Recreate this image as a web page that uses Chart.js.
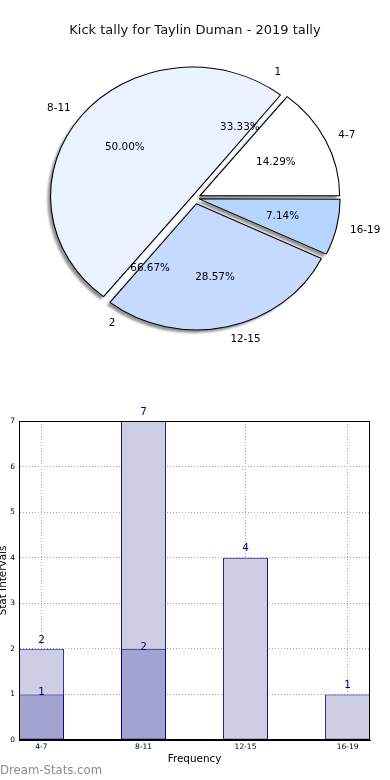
<!DOCTYPE html>
<html>
<head>
<meta charset="utf-8">
<script src="https://cdn.jsdelivr.net/npm/chart.js@4.4.1/dist/chart.umd.min.js"></script>
<style>
  html, body { margin: 0; padding: 0; background: #fff; width: 390px; height: 780px; overflow: hidden; }
  .pie { position: absolute; left: 0; top: 0; width: 390px; height: 396px; }
  #barWrap { position: absolute; left: 0; top: 380px; width: 390px; height: 400px; }
  #title { position: absolute; left: 0; top: 22px; width: 390px; text-align: center;
           font: 13px "DejaVu Sans"; line-height: 16px; color: #111; }
  #mark { position: absolute; left: 0; top: 762px; font: 11.7px "DejaVu Sans"; line-height: 16px; color: #8c8c8c; }
</style>
</head>
<body>
<div class="pie"><canvas id="pieShadow"></canvas></div>
<div class="pie"><canvas id="pieMain"></canvas></div>
<div class="pie"><canvas id="pieSub"></canvas></div>
<div id="title">Kick tally for Taylin Duman - 2019 tally</div>
<div id="barWrap"><canvas id="bars"></canvas></div>
<div id="mark">Dream-Stats.com</div>
<script>
// data
const categories = ['4-7', '8-11', '12-15', '16-19'];
const counts = [2, 7, 4, 1];
const subCategories = ['1', '2'];
const subCounts = [1, 2];
const lowCounts = [1, 2, null, null];
const yTicks = [0, 1, 2, 3, 4, 5, 6, 7];

const pieColors = ['#ffffff', '#ebf2ff', '#c6d9ff', '#b5d5ff'];
const SX = 1.1;        // pie is wider than tall
const EXPLODE = 6;     // px each wedge is pushed out
const FONT = '"DejaVu Sans", sans-serif';
const navy = '#000080';

Chart.defaults.font.family = FONT;
Chart.defaults.animation = false;

// chart.js pushes an arc by offset/4 * (1 + fix); pick the offset that gives EXPLODE px
function arcOffset(c) {
  const data = c.dataset.data;
  const total = data.reduce((a, b) => a + b, 0);
  const circ = 2 * Math.PI * data[c.dataIndex] / total;
  const fix = 1 - Math.sin(Math.min(Math.PI, circ));
  return 4 * EXPLODE / (1 + fix);
}

function stretch(dx, dy, filter) {
  return {
    id: 'stretch',
    beforeDatasetsDraw(chart) {
      const ctx = chart.ctx;
      const a = chart.chartArea;
      const cx = (a.left + a.right) / 2;
      ctx.save();
      if (filter) ctx.filter = filter;
      ctx.translate(cx + dx, dy);
      ctx.scale(SX, 1);
      ctx.translate(-cx, 0);
    },
    afterDatasetsDraw(chart) {
      chart.ctx.restore();
    }
  };
}

const pieLabels = {
  id: 'pieLabels',
  afterDraw(chart) {
    const ctx = chart.ctx;
    const data = chart.data.datasets[0].data;
    const total = data.reduce((a, b) => a + b, 0);
    ctx.save();
    ctx.font = '10.4px ' + FONT;
    ctx.fillStyle = '#000';
    ctx.textBaseline = 'middle';
    chart.getDatasetMeta(0).data.forEach((arc, i) => {
      const p = arc.getProps(['x', 'y', 'startAngle', 'endAngle', 'outerRadius'], true);
      const mid = (p.startAngle + p.endAngle) / 2;
      const cos = Math.cos(mid), sin = Math.sin(mid);
      const at = r => ({ x: p.x + SX * (EXPLODE + r) * cos, y: p.y + (EXPLODE + r) * sin });
      const out = at(1.1 * p.outerRadius);
      ctx.textAlign = cos >= 0 ? 'left' : 'right';
      ctx.fillText(chart.data.labels[i], out.x, out.y);
      const inn = at(0.6 * p.outerRadius);
      ctx.textAlign = 'center';
      ctx.fillText((data[i] / total * 100).toFixed(2) + '%', inn.x, inn.y);
    });
    ctx.restore();
  }
};

// pies go clockwise in chart.js, so feed them reversed and start at 3 o'clock
function pieChart(id, labels, values, fill, border, plugins) {
  return new Chart(document.getElementById(id), {
    type: 'pie',
    data: {
      labels: labels.slice().reverse(),
      datasets: [{
        data: values.slice().reverse(),
        backgroundColor: Array.isArray(fill) ? fill.slice().reverse() : fill,
        borderColor: '#000',
        borderWidth: border,
        offset: arcOffset,
        hoverOffset: 0,
        clip: false
      }]
    },
    options: {
      responsive: true,
      maintainAspectRatio: false,
      rotation: 90,
      radius: 126,
      plugins: { legend: { display: false }, tooltip: { enabled: false } },
      events: []
    },
    plugins: plugins
  });
}

pieChart('pieShadow', categories, counts, 'rgba(0,0,0,0.42)', 0, [stretch(-3, 3, 'blur(1px)')]);
pieChart('pieMain', categories, counts, pieColors, 1, [stretch(0, 0), pieLabels]);
pieChart('pieSub', subCategories, subCounts, 'rgba(0,0,0,0)', 0, [stretch(0, 0), pieLabels]);

// bar chart
const frame = {
  id: 'frame',
  afterDraw(chart) {
    const { ctx, chartArea: a } = chart;
    ctx.save();
    ctx.strokeStyle = '#000';
    ctx.lineWidth = 1;
    ctx.strokeRect(Math.round(a.left) + 0.5, Math.round(a.top) + 0.5,
      Math.round(a.right - a.left) - 1, Math.round(a.bottom - a.top) - 1);
    ctx.restore();
  }
};

const labelLift = [2, 9];
const barLabels = {
  id: 'barLabels',
  afterDatasetsDraw(chart) {
    const ctx = chart.ctx;
    ctx.save();
    ctx.font = '10.4px ' + FONT;
    ctx.fillStyle = navy;
    ctx.textAlign = 'center';
    ctx.textBaseline = 'middle';
    chart.data.datasets.forEach((ds, d) => {
      chart.getDatasetMeta(d).data.forEach((bar, i) => {
        const v = ds.data[i].y;
        if (v == null) return;
        ctx.fillText(String(v), bar.x, bar.y - labelLift[d]);
      });
    });
    ctx.restore();
  }
};

const tickFont = { family: FONT, size: 7.5 };
const axisBorder = { display: true, color: '#000', width: 1, dash: [1, 2] };

new Chart(document.getElementById('bars'), {
  type: 'bar',
  data: {
    datasets: [
      {
        data: lowCounts.map((v, i) => ({ x: i, y: v })),
        backgroundColor: '#a3a3d0',
        borderColor: navy,
        borderWidth: 1,
        borderSkipped: false
      },
      {
        data: counts.map((v, i) => ({ x: i, y: v })),
        backgroundColor: '#cdcde4',
        borderColor: navy,
        borderWidth: 1,
        borderSkipped: false
      }
    ]
  },
  options: {
    responsive: true,
    maintainAspectRatio: false,
    events: [],
    layout: { padding: { top: 41, right: 20, left: 0, bottom: 0 } },
    datasets: { bar: { grouped: false, categoryPercentage: 1, barPercentage: 0.44 } },
    plugins: { legend: { display: false }, tooltip: { enabled: false } },
    scales: {
      x: {
        type: 'linear',
        offset: false,
        min: -0.22,
        max: 3.22,
        z: 1,
        afterBuildTicks: s => { s.ticks = categories.map((c, i) => ({ value: i })); },
        afterFit: s => { s.height = 40; },
        ticks: {
          callback: v => categories[v],
          font: tickFont,
          color: '#000',
          padding: 3,
          maxRotation: 0,
          autoSkip: false
        },
        grid: { color: '#aaaaaa', lineWidth: 1, drawTicks: false, offset: false },
        border: axisBorder,
        title: {
          display: true,
          text: 'Frequency',
          color: '#000',
          font: { family: FONT, size: 10.4 },
          padding: { top: 0, bottom: 14 }
        }
      },
      y: {
        min: 0,
        max: 7,
        z: 1,
        afterBuildTicks: s => { s.ticks = yTicks.map(v => ({ value: v })); },
        afterFit: s => { s.width = 19; },
        ticks: { font: tickFont, color: '#000', padding: 4 },
        grid: { color: '#aaaaaa', lineWidth: 1, drawTicks: false },
        border: axisBorder,
        title: {
          display: true,
          text: 'Stat Intervals',
          color: '#000',
          font: { family: FONT, size: 10.4 },
          padding: { top: -3, bottom: 0 }
        }
      }
    }
  },
  plugins: [frame, barLabels]
});
</script>
</body>
</html>
